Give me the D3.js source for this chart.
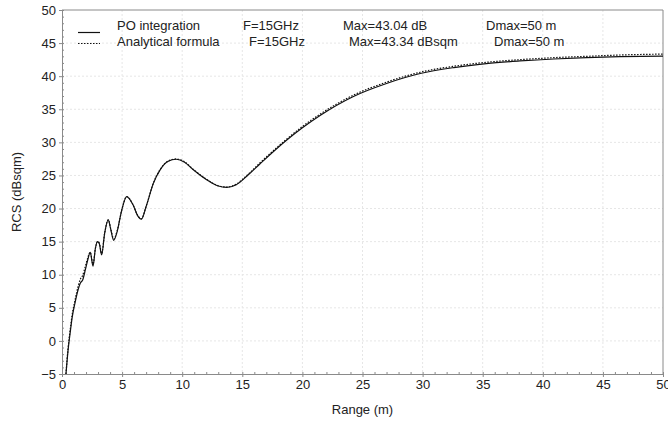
<!DOCTYPE html>
<html>
<head>
<meta charset="utf-8">
<script src="https://cdn.jsdelivr.net/npm/d3@7"></script>
<style>
  body { margin: 0; background: #fff; }
  svg { font-family: "Liberation Sans", Arial, sans-serif; }
  .axis path, .axis line { stroke: #8a8a8a; }
  .axis text { fill: #222; font-size: 13px; }
  .grid line { stroke: #e6e6e6; stroke-dasharray: 2,2; }
  .legend text { fill: #222; font-size: 13px; }
</style>
</head>
<body>
<svg id="chart"></svg>
<script>
// range (m), shared by both series
const range = [0.33, 0.5, 0.69, 0.85, 1.1, 1.35, 1.52, 1.72, 1.95, 2.15,
  2.35, 2.58, 2.78, 2.95, 3.1, 3.3, 3.55, 3.85, 4.05, 4.3,
  4.6, 4.95, 5.38, 5.9, 6.3, 6.6, 7.0, 7.6, 8.15, 8.8,
  9.5, 10.2, 10.9, 12.0, 13.0, 13.7, 14.5, 15.5, 16.5, 18.7,
  20, 21.5, 24.2, 27, 29.8, 32.6, 35.3, 38.1, 40.9, 43.65, 46.4, 50];

// PO integration, RCS in dBsqm
const poRcs = [-5, -1.5, 1.4, 3.6, 5.9, 7.8, 8.7, 9.2, 10.8, 12.3,
  13.4, 11.3, 14.0, 15.0, 14.7, 13.0, 16.3, 18.3, 16.9, 15.2,
  16.6, 19.6, 21.8, 20.6, 18.9, 18.4, 20.3, 23.8, 25.8, 27.1,
  27.45, 27.0, 25.9, 24.4, 23.4, 23.2, 23.6, 25.1, 26.8, 30.35,
  32.2, 34.1, 36.9, 38.9, 40.4, 41.3, 41.9, 42.3, 42.6, 42.8, 42.95, 43.04];

// Analytical formula, RCS in dBsqm
const anRcs = [-5, -1.2, 1.8, 4.0, 6.3, 8.3, 9.3, 9.9, 11.3, 12.6,
  13.4, 11.6, 14.0, 15.0, 14.8, 13.2, 16.3, 18.3, 17.0, 15.4,
  16.7, 19.6, 21.8, 20.6, 18.95, 18.45, 20.35, 23.85, 25.85, 27.15,
  27.5, 27.05, 25.95, 24.45, 23.45, 23.25, 23.7, 25.2, 26.95, 30.5,
  32.4, 34.3, 37.1, 39.1, 40.6, 41.5, 42.1, 42.5, 42.8, 43.0, 43.2, 43.34];

const xTicks = [0, 5, 10, 15, 20, 25, 30, 35, 40, 45, 50];
const yTicks = [-5, 0, 5, 10, 15, 20, 25, 30, 35, 40, 45, 50];

const legendRows = [
  ['PO integration', 'F=15GHz', 'Max=43.04 dB', 'Dmax=50 m'],
  ['Analytical formula', 'F=15GHz', 'Max=43.34 dBsqm', 'Dmax=50 m']
];

class RcsChart {
  constructor(_config) {
    this.config = {
      parentElement: _config.parentElement,
      containerWidth: _config.containerWidth || 668,
      containerHeight: _config.containerHeight || 423,
      margin: _config.margin || {top: 10, right: 5, bottom: 49, left: 62}
    }
    this.initVis();
  }

  initVis() {
    let vis = this;

    vis.width = vis.config.containerWidth - vis.config.margin.left - vis.config.margin.right;
    vis.height = vis.config.containerHeight - vis.config.margin.top - vis.config.margin.bottom;

    vis.xScale = d3.scaleLinear().domain([0, 50]).range([0, vis.width]);
    vis.yScale = d3.scaleLinear().domain([-5, 50]).range([vis.height, 0]);

    vis.svg = d3.select(vis.config.parentElement)
        .attr('width', vis.config.containerWidth)
        .attr('height', vis.config.containerHeight);

    vis.chart = vis.svg.append('g')
        .attr('transform', `translate(${vis.config.margin.left},${vis.config.margin.top})`);

    vis.chart.append('clipPath').attr('id', 'plot-clip')
      .append('rect')
        .attr('width', vis.width)
        .attr('height', vis.height);
  }

  renderVis() {
    let vis = this;

    // faint grid at major ticks
    vis.chart.append('g').attr('class', 'grid')
      .selectAll('line.v').data(xTicks.slice(1, -1)).join('line')
        .attr('x1', d => vis.xScale(d)).attr('x2', d => vis.xScale(d))
        .attr('y1', 0).attr('y2', vis.height);
    vis.chart.select('.grid')
      .selectAll('line.h').data(yTicks.slice(1, -1)).join('line')
        .attr('class', 'h')
        .attr('x1', 0).attr('x2', vis.width)
        .attr('y1', d => vis.yScale(d)).attr('y2', d => vis.yScale(d));

    // minor ticks every unit
    vis.chart.append('g').attr('class', 'axis')
        .attr('transform', `translate(0,${vis.height})`)
        .call(d3.axisBottom(vis.xScale).tickValues(d3.range(0, 51, 1)).tickSize(-2).tickFormat(''))
        .call(g => g.select('.domain').remove());
    vis.chart.append('g').attr('class', 'axis')
        .call(d3.axisLeft(vis.yScale).tickValues(d3.range(-5, 51, 1)).tickSize(-2).tickFormat(''))
        .call(g => g.select('.domain').remove());

    vis.chart.append('g').attr('class', 'axis x-axis')
        .attr('transform', `translate(0,${vis.height})`)
        .call(d3.axisBottom(vis.xScale).tickValues(xTicks).tickSizeOuter(0).tickSize(3).tickPadding(3));
    vis.chart.append('g').attr('class', 'axis y-axis')
        .call(d3.axisLeft(vis.yScale).tickValues(yTicks).tickSizeOuter(0).tickSize(3).tickPadding(3));

    // top and right frame
    vis.chart.append('path')
        .attr('d', `M0,0H${vis.width}V${vis.height}`)
        .attr('fill', 'none')
        .attr('stroke', '#8a8a8a');

    const line = rcs => d3.line()
        .x((d, i) => vis.xScale(range[i]))
        .y(d => vis.yScale(d))
        .curve(d3.curveMonotoneX)(rcs);

    vis.chart.append('path')
        .attr('clip-path', 'url(#plot-clip)')
        .attr('d', line(anRcs))
        .attr('fill', 'none')
        .attr('stroke', '#111')
        .attr('stroke-width', 1.2)
        .attr('stroke-dasharray', '1.5,1.5');

    vis.chart.append('path')
        .attr('clip-path', 'url(#plot-clip)')
        .attr('d', line(poRcs))
        .attr('fill', 'none')
        .attr('stroke', '#111')
        .attr('stroke-width', 1.2);

    // axis titles
    vis.svg.append('text')
        .attr('x', vis.config.margin.left + vis.width / 2)
        .attr('y', 414)
        .attr('text-anchor', 'middle')
        .style('font-size', '13px').style('fill', '#222')
        .text('Range (m)');

    vis.svg.append('text')
        .attr('transform', `translate(21,${vis.config.margin.top + vis.yScale(22.5)}) rotate(-90)`)
        .attr('text-anchor', 'middle')
        .style('font-size', '13px').style('fill', '#222')
        .text('RCS (dBsqm)');

    // legend
    const legend = vis.svg.append('g').attr('class', 'legend');
    const colX = [[117, 243, 343, 486], [117, 249, 349, 494]];
    const rowY = [30, 46];
    legendRows.forEach((row, r) => {
      row.forEach((t, c) => {
        legend.append('text').attr('x', colX[r][c]).attr('y', rowY[r]).text(t);
      });
    });
    legend.append('line')
        .attr('x1', 78).attr('x2', 100).attr('y1', 32.5).attr('y2', 32.5)
        .attr('stroke', '#111').attr('stroke-width', 1.2);
    legend.append('line')
        .attr('x1', 78).attr('x2', 100).attr('y1', 43.5).attr('y2', 43.5)
        .attr('stroke', '#111').attr('stroke-width', 1.2)
        .attr('stroke-dasharray', '1.5,1.5');
  }
}

const chart = new RcsChart({parentElement: '#chart'});
chart.renderVis();
</script>
</body>
</html>
